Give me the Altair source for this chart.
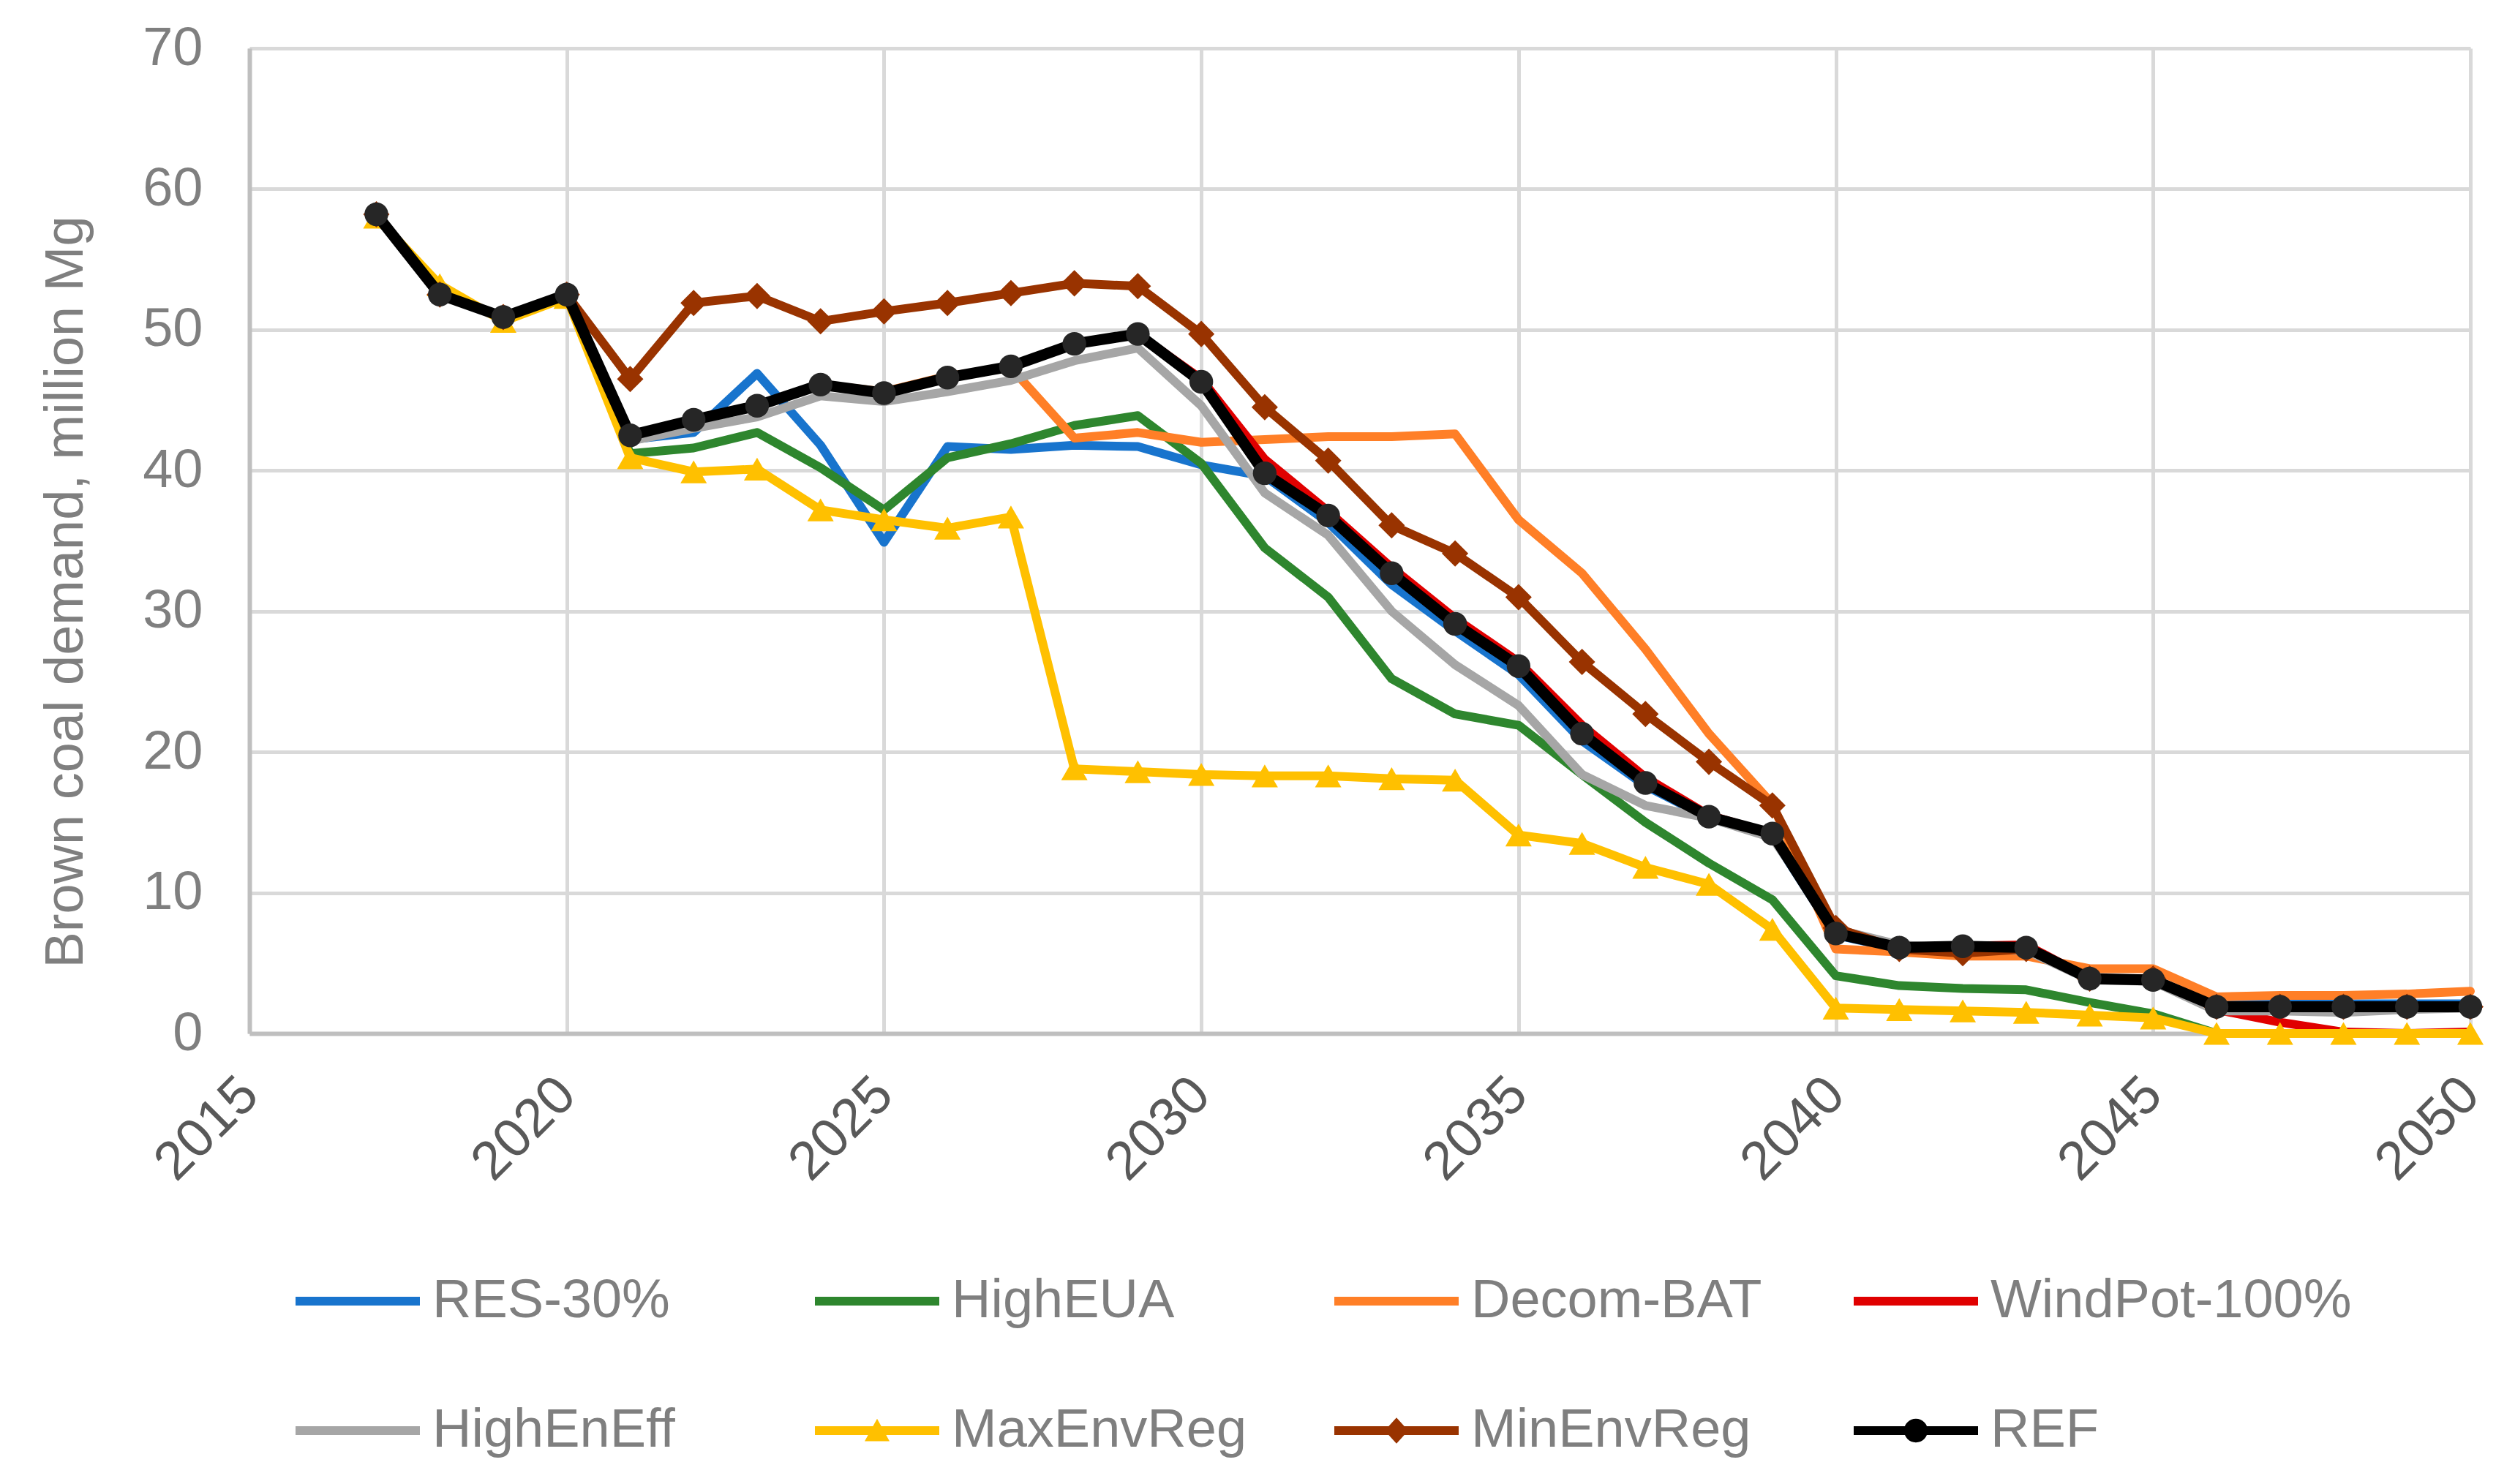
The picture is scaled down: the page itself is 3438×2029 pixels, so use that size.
import altair as alt
import pandas as pd

# ---- data -------------------------------------------------------------
years = list(range(2017, 2051))

series_names = ["RES-30%", "HighEUA", "Decom-BAT", "WindPot-100%",
                "HighEnEff", "MaxEnvReg", "MinEnvReg", "REF"]
series_colors = ["#1874CD", "#2E862E", "#FF7F27", "#E00000",
                 "#A6A6A6", "#FFC000", "#993300", "#000000"]

res_30 = [58.2, 52.5, 50.9, 52.5, 42.2, 42.7, 46.9, 41.8, 34.9, 41.7,
          41.5, 41.8, 41.7, 40.4, 39.6, 36.3, 31.9, 28.6, 25.5, 20.8,
          17.6, 15.3, 14.0, 7.0, 6.0, 6.2, 6.0, 3.9, 3.8, 2.1,
          2.1, 2.1, 2.1, 2.1]
high_eua = [58.2, 52.5, 50.9, 52.5, 41.2, 41.6, 42.7, 40.2, 37.2, 40.9,
            41.9, 43.2, 43.9, 40.5, 34.5, 31.0, 25.2, 22.7, 21.9, 18.4,
            15.0, 12.1, 9.5, 4.1, 3.4, 3.2, 3.1, 2.2, 1.4, 0.0,
            0.0, 0.0, 0.0, 0.0]
decom_bat = [58.2, 52.5, 50.9, 52.5, 42.5, 43.6, 44.6, 46.1, 45.6, 46.7,
             47.3, 42.3, 42.7, 42.0, 42.2, 42.4, 42.4, 42.6, 36.5, 32.7,
             27.3, 21.3, 16.3, 6.0, 5.8, 5.5, 5.5, 4.6, 4.6, 2.6,
             2.7, 2.7, 2.8, 3.0]
windpot_100 = [58.2, 52.5, 50.9, 52.5, 42.5, 43.6, 44.6, 46.1, 45.5, 46.6,
               47.4, 49.0, 49.7, 46.5, 40.8, 37.1, 33.1, 29.5, 26.4, 21.9,
               18.2, 15.5, 14.2, 7.1, 6.1, 6.2, 6.3, 3.9, 3.8, 1.7,
               0.8, 0.1, 0.0, 0.1]
high_en_eff = [58.2, 52.5, 50.9, 52.5, 42.1, 43.0, 43.8, 45.3, 44.9, 45.6,
               46.4, 47.8, 48.7, 44.6, 38.4, 35.4, 30.0, 26.2, 23.3, 18.4,
               16.2, 15.3, 13.9, 7.4, 6.3, 6.0, 5.9, 3.8, 3.7, 1.6,
               1.6, 1.5, 1.7, 1.8]
max_env_reg = [58.0, 53.2, 50.6, 52.3, 40.9, 39.9, 40.1, 37.2, 36.5, 35.9,
               36.7, 18.8, 18.6, 18.4, 18.3, 18.3, 18.1, 18.0, 14.1, 13.5,
               11.8, 10.6, 7.4, 1.8, 1.7, 1.6, 1.5, 1.3, 1.1, 0.0,
               0.0, 0.0, 0.0, 0.0]
min_env_reg = [58.2, 52.5, 50.9, 52.5, 46.5, 51.9, 52.4, 50.6, 51.3, 51.9,
               52.6, 53.3, 53.1, 49.7, 44.5, 40.7, 36.1, 34.1, 31.0, 26.4,
               22.7, 19.3, 16.2, 7.5, 6.0, 5.7, 6.0, 3.9, 3.9, 1.9,
               1.9, 1.9, 1.9, 1.9]
ref = [58.2, 52.5, 50.9, 52.5, 42.5, 43.6, 44.6, 46.1, 45.5, 46.6,
       47.4, 49.0, 49.7, 46.3, 39.8, 36.8, 32.7, 29.1, 26.1, 21.3,
       17.8, 15.4, 14.2, 7.1, 6.1, 6.2, 6.1, 3.9, 3.8, 1.9,
       1.9, 1.9, 1.9, 1.9]

x_ticks = [2015, 2020, 2025, 2030, 2035, 2040, 2045, 2050]
y_ticks = [0, 10, 20, 30, 40, 50, 60, 70]

series_values = [res_30, high_eua, decom_bat, windpot_100,
                 high_en_eff, max_env_reg, min_env_reg, ref]

df = pd.DataFrame(
    [{"series": name, "year": yr, "value": v}
     for name, vals in zip(series_names, series_values)
     for yr, v in zip(years, vals)]
)

# ---- styling ----------------------------------------------------------
FONT = "Liberation Sans"
FS = 74

# markers drawn on top of some series: (shape, size, fill)
markers = {
    "MaxEnvReg": ("triangle-up", 1300, "#FFC000"),
    "MinEnvReg": ("diamond", 1300, "#993300"),
    "REF": ("circle", 1050, "#262626"),
}
line_widths = {name: 12 for name in series_names}
line_widths["REF"] = 15

# legend glyphs: a short line with the series marker on it
bar = "M-1,-0.07H1V0.07H-1Z"
legend_paths = {
    "RES-30%": bar,
    "HighEUA": bar,
    "Decom-BAT": bar,
    "WindPot-100%": bar,
    "HighEnEff": bar,
    "MaxEnvReg": bar + " M0,-0.19L0.2,0.17L-0.2,0.17Z",
    "MinEnvReg": bar + " M0,-0.21L0.19,0L0,0.21L-0.19,0Z",
    "REF": bar + " M0.19,0A0.19,0.19 0 1 1 -0.19,0A0.19,0.19 0 1 1 0.19,0Z",
}
LEGEND_SYMBOL = 28900  # 170 px wide glyph

x_enc = alt.X(
    "year:Q",
    scale=alt.Scale(domain=[2015, 2050], nice=False, zero=False),
    axis=alt.Axis(
        values=x_ticks, format="d", title=None,
        labelAngle=-45, labelAlign="right", labelBaseline="middle",
        labelPadding=72, labelFont=FONT, labelFontSize=FS,
        labelColor="#595959", ticks=False, tickSize=0,
        domainColor="#BFBFBF", domainWidth=6,
        grid=True, gridColor="#D9D9D9", gridWidth=5,
        labelOverlap=False, labelBound=False, labelFlush=False,
    ),
)
y_enc = alt.Y(
    "value:Q",
    scale=alt.Scale(domain=[0, 70], nice=False),
    axis=alt.Axis(
        values=y_ticks, format="d",
        title="Brown coal demand, million Mg",
        titleFont=FONT, titleFontSize=FS, titleFontWeight="normal",
        titleColor="#7F7F7F", titleAngle=-90, titleAlign="center",
        titleBaseline="alphabetic", titleX=-229, titleY=743,
        labelFont=FONT, labelFontSize=FS, labelColor="#7F7F7F",
        labelPadding=64, ticks=False, tickSize=0,
        domainColor="#BFBFBF", domainWidth=6,
        grid=True, gridColor="#D9D9D9", gridWidth=5,
        labelOverlap=False, labelFlush=False,
    ),
)

layers = []
for name, color in zip(series_names, series_colors):
    base = alt.Chart(df).transform_filter(alt.datum.series == name)
    layers.append(
        base.mark_line(strokeWidth=line_widths[name], color=color,
                       strokeJoin="round", strokeCap="round")
        .encode(x=x_enc, y=y_enc)
    )
    if name in markers:
        shape, size, fill = markers[name]
        layers.append(
            base.mark_point(shape=shape, size=size, filled=True,
                            color=fill, opacity=1, strokeWidth=0)
            .encode(x=x_enc, y=y_enc)
        )

legend = alt.Legend(
    title=None, orient="none", legendX=63, legendY=1628,
    direction="horizontal", columns=4, gridAlign="all",
    labelFont=FONT, labelFontSize=FS, labelColor="#7F7F7F",
    labelOffset=17, labelLimit=2000, columnPadding=29, rowPadding=55,
    symbolSize=LEGEND_SYMBOL, symbolStrokeWidth=0, symbolOpacity=1,
    padding=0,
)

# empty layer that only carries the legend (colour + glyph per series)
legend_layer = (
    alt.Chart(df)
    .transform_filter("false")
    .mark_point(filled=True, size=LEGEND_SYMBOL, opacity=1, strokeWidth=0)
    .encode(
        x=x_enc, y=y_enc,
        color=alt.Color("series:N", legend=legend,
                        scale=alt.Scale(domain=series_names, range=series_colors)),
        shape=alt.Shape("series:N", legend=legend,
                        scale=alt.Scale(domain=series_names,
                                        range=[legend_paths[n] for n in series_names])),
    )
)

chart = (
    alt.layer(*layers, legend_layer)
    .properties(
        width=3036, height=1347,
        autosize=alt.AutoSizeParams(type="none"),
        padding={"left": 341, "top": 66, "right": 61, "bottom": 616},
        background="white",
    )
    .configure_view(stroke=None)
    .configure(font=FONT)
)

chart.save("out.html", embed_options={"renderer": "svg", "actions": False})
